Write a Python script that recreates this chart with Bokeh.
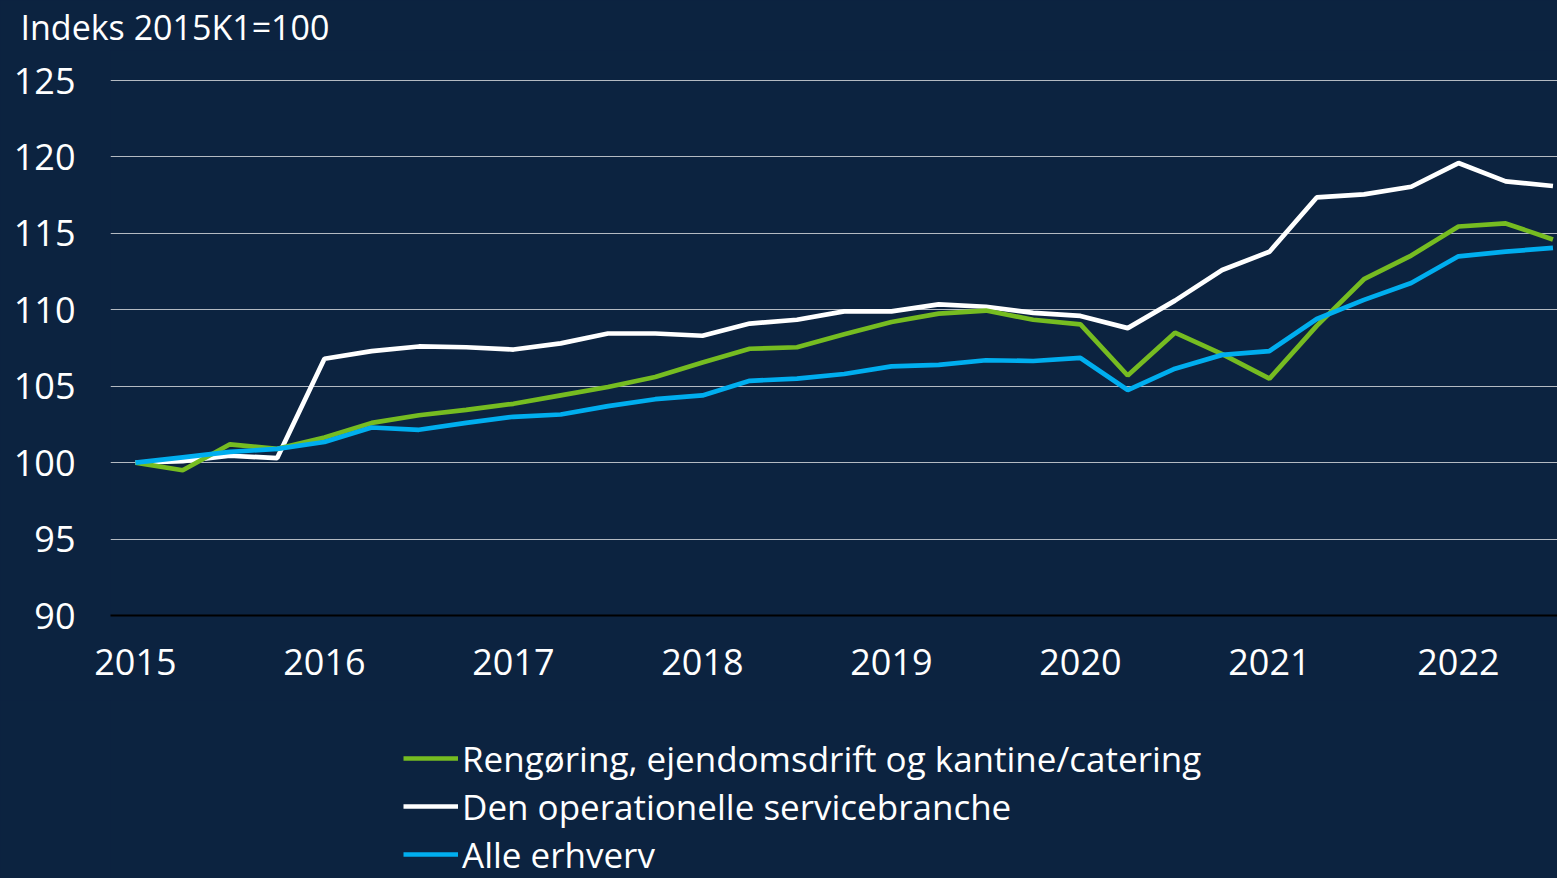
from bokeh.plotting import figure
from bokeh.layouts import column
from bokeh.models import FixedTicker, Legend, LegendItem, Range1d, ColumnDataSource
from bokeh.embed import file_html
from bokeh.resources import INLINE

# ---- data (quarterly, 2015K1 .. 2022K3) ----
years = [2015, 2016, 2017, 2018, 2019, 2020, 2021, 2022]
quarters = [y + q / 4 for y in years for q in range(4)][:31]

rengoering = [100.0, 99.5, 101.2, 100.9, 101.65, 102.6, 103.1, 103.45, 103.85, 104.4,
              104.95, 105.6, 106.55, 107.45, 107.55, 108.4, 109.2, 109.75, 109.95, 109.35,
              109.05, 105.7, 108.5, 107.1, 105.5, 108.95, 112.0, 113.55, 115.45, 115.65, 114.6]
operationelle = [100.0, 100.1, 100.45, 100.3, 106.8, 107.3, 107.6, 107.55, 107.4, 107.8,
                 108.45, 108.45, 108.3, 109.1, 109.35, 109.9, 109.9, 110.35, 110.2, 109.8,
                 109.6, 108.8, 110.6, 112.6, 113.8, 117.35, 117.55, 118.05, 119.6, 118.4, 118.1]
alle = [100.0, 100.35, 100.7, 100.9, 101.35, 102.3, 102.15, 102.6, 103.0, 103.15,
        103.7, 104.15, 104.4, 105.35, 105.5, 105.8, 106.3, 106.4, 106.7, 106.65,
        106.85, 104.75, 106.15, 107.05, 107.3, 109.4, 110.65, 111.75, 113.5, 113.8, 114.05]

labels = ["Rengøring, ejendomsdrift og kantine/catering",
          "Den operationelle servicebranche",
          "Alle erhverv"]
y_ticks = [90, 95, 100, 105, 110, 115, 120, 125]
title_text = "Indeks 2015K1=100"

BG = "#0c2340"
GREEN = "#76bc21"
WHITE = "#ffffff"
BLUE = "#00aeef"
FONT = "Open Sans"
LW = 4.7
STY = {"background-color": BG}

src = ColumnDataSource(dict(x=quarters, g=rengoering, w=operationelle, b=alle))

# ---------------- main chart ----------------
p = figure(width=1557, height=700, output_backend="svg", toolbar_location=None,
           x_range=Range1d(2014.868, 2022.524), y_range=Range1d(90, 126.963),
           background_fill_color=BG, border_fill_color=BG, styles=STY,
           min_border_left=110, min_border_right=0, min_border_top=50, min_border_bottom=85)
p.outline_line_color = None

p.line("x", "w", source=src, line_color=WHITE, line_width=LW)
p.line("x", "g", source=src, line_color=GREEN, line_width=LW)
p.line("x", "b", source=src, line_color=BLUE, line_width=LW)

p.title.text = title_text
p.title.text_color = WHITE
p.title.text_font = FONT
p.title.text_font_size = "34px"
p.title.text_font_style = "normal"
p.title.align = "left"
p.title.offset = -90
p.title.standoff = 2

p.xaxis.ticker = FixedTicker(ticks=years)
p.yaxis.ticker = FixedTicker(ticks=y_ticks)
for ax in (p.xaxis[0], p.yaxis[0]):
    ax.major_label_text_color = WHITE
    ax.major_label_text_font = FONT
    ax.major_label_text_font_size = "36px"
    ax.major_tick_line_color = None
    ax.minor_tick_line_color = None
p.yaxis.axis_line_color = None
p.yaxis.major_label_standoff = 29
p.xaxis.axis_line_color = "#000000"
p.xaxis.axis_line_width = 2
p.xaxis.major_label_standoff = 27

p.xgrid.grid_line_color = None
p.ygrid.grid_line_color = "#b4bac2"
p.ygrid.grid_line_width = 1

# ---------------- legend strip ----------------
q = figure(width=1557, height=178, output_backend="svg", toolbar_location=None,
           x_range=Range1d(0, 1), y_range=Range1d(0, 1),
           x_axis_location=None, y_axis_location=None,
           background_fill_color=BG, border_fill_color=BG, styles=STY,
           min_border_left=0, min_border_right=0, min_border_top=0, min_border_bottom=0)
q.outline_line_color = None
q.xgrid.grid_line_color = None
q.ygrid.grid_line_color = None
lg = q.line("x", "g", source=src, line_color=GREEN, line_width=LW)
lw = q.line("x", "w", source=src, line_color=WHITE, line_width=LW)
lb = q.line("x", "b", source=src, line_color=BLUE, line_width=LW)

legend = Legend(items=[LegendItem(label=labels[0], renderers=[lg]),
                       LegendItem(label=labels[1], renderers=[lw]),
                       LegendItem(label=labels[2], renderers=[lb])],
                location=(293, 0), orientation="vertical",
                background_fill_alpha=0, border_line_color=None,
                label_text_color=WHITE, label_text_font=FONT, label_text_font_size="35px",
                glyph_width=55, glyph_height=48, label_height=48, label_standoff=4,
                spacing=0, padding=0, margin=0)
q.add_layout(legend, "center")

layout = column(p, q, spacing=0, styles=STY)
open("out.html", "w").write(file_html(layout, INLINE))
